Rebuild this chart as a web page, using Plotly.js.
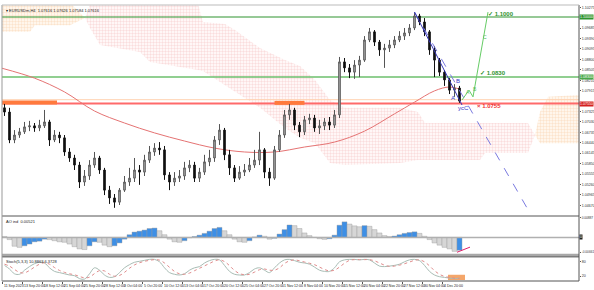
<!DOCTYPE html>
<html><head><meta charset="utf-8">
<script src="https://cdn.plot.ly/plotly-3.0.1.min.js"></script>
<style>html,body{margin:0;padding:0;background:#fff;}#c{width:594px;height:290px;}</style>
</head><body><div id="c"></div>
<script>
// ---- data (H4 candles aggregated, one candle per 4 bars) ----
const openP = [1.0743,1.0731,1.0652,1.0666,1.0675,1.0689,1.0692,1.0686,1.0692,1.0703,
1.0652,1.0666,1.0658,1.0618,1.0601,1.0581,1.0533,1.0550,1.0581,1.0601,
1.0567,1.0510,1.0488,1.0476,1.0510,1.0533,1.0544,1.0567,1.0561,1.0595,
1.0618,1.0629,1.0624,1.0553,1.0533,1.0544,1.0550,1.0573,1.0581,1.0544,
1.0561,1.0590,1.0601,1.0652,1.0680,1.0610,1.0573,1.0544,1.0561,1.0567,
1.0581,1.0595,1.0624,1.0561,1.0544,1.0624,1.0666,1.0723,1.0737,1.0694,
1.0675,1.0709,1.0714,1.0686,1.0692,1.0703,1.0694,1.0723,1.0873,1.0856,
1.0844,1.0864,1.0878,1.0935,1.0958,1.0929,1.0907,1.0912,1.0921,1.0935,
1.0946,1.0955,1.0969,1.1003,1.0986,1.0958,1.0907,1.0878,1.0844,1.0822,
1.0793,1.0799];
const highP = [1.0754,1.0743,1.0680,1.0686,1.0703,1.0706,1.0700,1.0709,1.0737,1.0709,
1.0680,1.0675,1.0666,1.0629,1.0610,1.0590,1.0567,1.0595,1.0618,1.0607,
1.0573,1.0522,1.0499,1.0516,1.0550,1.0573,1.0601,1.0581,1.0610,1.0635,
1.0643,1.0646,1.0635,1.0561,1.0561,1.0567,1.0590,1.0595,1.0590,1.0573,
1.0610,1.0624,1.0663,1.0697,1.0686,1.0624,1.0581,1.0578,1.0584,1.0601,
1.0624,1.0675,1.0629,1.0573,1.0635,1.0680,1.0737,1.0754,1.0743,1.0703,
1.0720,1.0726,1.0723,1.0709,1.0714,1.0717,1.0737,1.0887,1.0884,1.0867,
1.0878,1.0890,1.0946,1.0969,1.0963,1.0935,1.0924,1.0935,1.0946,1.0960,
1.0969,1.0980,1.1014,1.1009,1.0997,1.0963,1.0918,1.0884,1.0850,1.0827,
1.0810,1.0805];
const lowP = [1.0720,1.0643,1.0643,1.0658,1.0669,1.0677,1.0675,1.0677,1.0686,1.0635,
1.0646,1.0643,1.0607,1.0590,1.0567,1.0516,1.0522,1.0539,1.0573,1.0556,
1.0496,1.0471,1.0460,1.0468,1.0505,1.0522,1.0533,1.0525,1.0550,1.0587,
1.0607,1.0610,1.0539,1.0510,1.0522,1.0533,1.0539,1.0561,1.0533,1.0533,
1.0553,1.0578,1.0590,1.0638,1.0595,1.0553,1.0533,1.0539,1.0550,1.0561,
1.0573,1.0581,1.0544,1.0522,1.0539,1.0618,1.0658,1.0709,1.0680,1.0660,
1.0666,1.0697,1.0675,1.0669,1.0680,1.0680,1.0686,1.0714,1.0844,1.0827,
1.0825,1.0830,1.0873,1.0929,1.0918,1.0890,1.0856,1.0901,1.0912,1.0929,
1.0935,1.0946,1.0963,1.0977,1.0946,1.0893,1.0830,1.0833,1.0805,1.0782,
1.0774,1.0757];
const closeP = [1.0731,1.0652,1.0666,1.0675,1.0689,1.0692,1.0686,1.0694,1.0703,1.0652,
1.0666,1.0658,1.0618,1.0601,1.0581,1.0533,1.0550,1.0581,1.0601,1.0567,
1.0510,1.0488,1.0476,1.0510,1.0533,1.0544,1.0567,1.0561,1.0595,1.0618,
1.0629,1.0624,1.0553,1.0533,1.0544,1.0550,1.0573,1.0581,1.0544,1.0561,
1.0590,1.0601,1.0652,1.0680,1.0610,1.0573,1.0544,1.0561,1.0567,1.0581,
1.0595,1.0624,1.0561,1.0544,1.0624,1.0666,1.0723,1.0737,1.0694,1.0675,
1.0709,1.0714,1.0686,1.0692,1.0703,1.0694,1.0723,1.0873,1.0856,1.0844,
1.0864,1.0878,1.0935,1.0958,1.0929,1.0907,1.0912,1.0921,1.0935,1.0946,
1.0955,1.0969,1.1003,1.0986,1.0958,1.0907,1.0878,1.0844,1.0822,1.0793,
1.0799,1.0762];

const maX = [-0.5,6,12,18,24,30,36,42,48,54,60,66,72,78,82,86,89,91];
const maY = [1.0855,1.0827,1.0788,1.0734,1.0700,1.0672,1.0649,1.0629,1.0618,1.0618,1.0632,1.0646,1.0677,1.0726,1.0759,1.0791,1.0802,1.0796];

// Ichimoku cloud boundaries
const pinkX = [16.1,17.1,19.1,27.1,29.1,38.7,39.7,44.1,46.1,51.1,56.1,59.1,62.1,65.1,68.1,79.1,82.7,84.1,95.1,96.1,104.7,106.1];
const pinkTop = [1.0997,1.1037,1.1037,1.1037,1.1037,1.1037,1.0986,1.0980,1.0963,1.0912,1.0878,1.0861,1.0822,1.0765,1.0743,1.0743,1.0731,1.0700,1.0700,1.0700,1.0700,1.0666];
const pinkBot = [1.0997,1.0969,1.0921,1.0901,1.0873,1.0850,1.0847,1.0808,1.0788,1.0743,1.0686,1.0658,1.0643,1.0587,1.0581,1.0587,1.0595,1.0595,1.0595,1.0615,1.0615,1.0666];
const orange1X = [-0.5,5.1,6.1,13.1,16.1];
const orange1Top = [1.1040,1.1040,1.1040,1.1040,1.0997];
const orange1Bot = [1.0958,1.0958,1.0977,1.0977,1.0997];
const orange2X = [106.1,107.1,108.7,114.9];
const orange2Top = [1.0666,1.0731,1.0774,1.0779];
const orange2Bot = [1.0666,1.0643,1.0643,1.0643];

const levelPrices = [1.1000, 1.0830, 1.0755];
const levelTexts = ["✓ 1.1000", "✓ 1.0830", "× 1.0755"];
const zoneStart = [-0.5, 54];
const zoneEnd = [10.5, 60];
const zonePrice = [1.0758, 1.0757];

const blueSolidX = [82, 91.5], blueSolidY = [1.1014, 1.0751];
const blueDashX = [82, 105.3], blueDashY = [1.1014, 1.0440];
const greenWaveX = [91.5, 92.9, 93.7, 96.7];
const greenWaveY = [1.0765, 1.0793, 1.0774, 1.1014];

const aoVals = [0.0004,-0.0010,-0.0040,-0.0045,-0.0038,-0.0030,-0.0020,-0.0017,-0.0008,-0.0010,
-0.0015,-0.0020,-0.0022,-0.0030,-0.0042,-0.0052,-0.0055,-0.0038,-0.0020,-0.0022,
-0.0035,-0.0042,-0.0038,-0.0025,-0.0008,0.0012,0.0024,0.0028,0.0033,0.0040,
0.0042,0.0030,0.0012,-0.0008,-0.0020,-0.0022,-0.0015,-0.0002,0.0004,0.0010,
0.0018,0.0028,0.0040,0.0045,0.0030,0.0012,-0.0008,-0.0020,-0.0022,-0.0015,
0.0002,0.0010,0.0005,-0.0008,-0.0004,0.0015,0.0035,0.0056,0.0053,0.0040,
0.0020,0.0008,0.0000,-0.0006,-0.0009,-0.0006,0.0010,0.0055,0.0070,0.0060,
0.0052,0.0048,0.0053,0.0050,0.0035,0.0020,0.0008,0.0004,0.0006,0.0012,
0.0018,0.0022,0.0025,0.0018,0.0005,-0.0010,-0.0025,-0.0035,-0.0045,-0.0052,
-0.0063,-0.0058];
const aoDivX = [90.5, 93.1], aoDivY = [-0.0067, -0.0044];

const stochMain = [65,50,30,28,45,60,72,78,75,55,40,35,30,25,22,10,8,30,55,45,
25,15,18,35,55,68,78,82,86,90,90,80,55,35,28,25,30,45,55,60,
75,85,90,88,65,40,28,25,25,35,50,55,45,35,55,75,88,90,85,78,
75,70,58,45,40,40,55,80,88,90,90,88,90,88,75,62,60,62,65,70,
80,88,90,85,65,40,25,18,15,12,10,12];
const stochSig = [70,62,48,36,34,44,58,70,76,70,56,44,36,30,26,19,13,16,31,43,
42,28,20,23,36,53,67,76,82,86,89,87,75,57,40,30,28,33,43,53,
63,73,83,88,81,64,44,31,26,28,37,47,50,45,45,55,73,84,88,84,
79,74,68,58,48,42,45,58,74,86,89,89,89,89,84,75,66,61,62,66,
72,79,86,88,80,63,43,28,19,15,12,11];
const stochBoxX = [88.7, 92.1], stochBoxY = [4, 26];

const dateLabels = ["11 Sep 2023","13 Sep 20:00","18 Sep 12:00","21 Sep 04:00","25 Sep 20:00","28 Sep 12:00","3 Oct 04:00","5 Oct 20:00","10 Oct 12:00","13 Oct 04:00","17 Oct 20:00","20 Oct 12:00","25 Oct 04:00","27 Oct 20:00","1 Nov 12:00","8 Nov 04:00","10 Nov 20:00","15 Nov 12:00","20 Nov 04:00","22 Nov 20:00","27 Nov 12:00","30 Nov 04:00","4 Dec 20:00"];
const priceTicks = [1.10275,1.09685,1.09390,1.09095,1.08800,1.08505,1.08210,1.07915,1.07325,1.07030,1.06735,1.06440,1.06145,1.05850,1.05555,1.05260,1.04965,1.04670];
const aoTicks = [0.00887, -0.00661];
const stochTicks = [20, 80];

// ---- build ----
const idx = closeP.map((_, i) => i);
const F = "Liberation Sans, Arial, sans-serif";
const PR = [1.04368, 1.10340];
const traces = [];
function poly(X, T, B, color, pcolor){
  return {type:'scatter', mode:'lines', x: X.concat(X.slice().reverse()), y: T.concat(B.slice().reverse()),
    fill:'toself', fillcolor:color, line:{width:0}, hoverinfo:'skip',
    fillpattern:{shape:'+', size:3, solidity:0.2, fgcolor:pcolor, bgcolor:color}, xaxis:'x', yaxis:'y', showlegend:false};
}
traces.push(poly(orange1X, orange1Top, orange1Bot, 'rgba(255,246,236,1)', '#f9d2b0'));
traces.push(poly(pinkX, pinkTop, pinkBot, 'rgba(255,247,247,1)', '#f5c6c6'));
traces.push(poly(orange2X, orange2Top, orange2Bot, 'rgba(255,246,236,1)', '#f9d2b0'));

// levels
const lvlColors = ['#2f932f', '#6cbf6c', '#ff6a6a'];
const lvlWidths = [1, 1.5, 2];
levelPrices.forEach((p, k) => traces.push({type:'scatter', mode:'lines', x:[-0.5, 114.9], y:[p, p],
  line:{color:lvlColors[k], width:lvlWidths[k]}, hoverinfo:'skip', showlegend:false}));
traces.push({type:'scatter', mode:'lines', x:[-0.5,114.9], y:[1.0766,1.0766], line:{color:'#ffd2b0', width:1}, showlegend:false});
zoneStart.forEach((s, k) => traces.push({type:'scatter', mode:'lines', x:[s, zoneEnd[k]], y:[zonePrice[k], zonePrice[k]],
  line:{color:'#ff7a3d', width:4}, showlegend:false}));

// MA
traces.push({type:'scatter', mode:'lines', x:maX, y:maY, line:{color:'#e57373', width:1, shape:'spline'}, showlegend:false});

// candles (overlay axis so they sit above the cloud)
traces.push({type:'candlestick', x:idx, open:openP, high:highP, low:lowP, close:closeP,
  increasing:{line:{color:'#555555', width:1}, fillcolor:'#b8b8b8'},
  decreasing:{line:{color:'#111111', width:1}, fillcolor:'#111111'},
  whiskerwidth:0, showlegend:false, xaxis:'x', yaxis:'y4'});

// trend lines (top overlay)
traces.push({type:'scatter', mode:'lines', x:blueDashX, y:blueDashY, line:{color:'#7a7ae0', width:1, dash:'dash'}, xaxis:'x', yaxis:'y5', showlegend:false});
traces.push({type:'scatter', mode:'lines', x:blueSolidX, y:blueSolidY, line:{color:'#3535b5', width:1}, xaxis:'x', yaxis:'y5', showlegend:false});
traces.push({type:'scatter', mode:'lines', x:greenWaveX, y:greenWaveY, line:{color:'#66cc66', width:1}, xaxis:'x', yaxis:'y5', showlegend:false});

// AO
const aoColors = aoVals.map((v, i) => (i > 0 && v > aoVals[i-1]) ? '#3d8fe6' : '#d6d6d6');
traces.push({type:'bar', x:idx, y:aoVals, marker:{color:aoColors, line:{color:'#9a9a9a', width:0.4}},
  xaxis:'x', yaxis:'y2', showlegend:false});
traces.push({type:'scatter', mode:'lines', x:[-0.5,114.9], y:[0,0], line:{color:'#b0b0b0', width:1.5}, xaxis:'x', yaxis:'y2', showlegend:false});
traces.push({type:'scatter', mode:'lines', x:aoDivX, y:aoDivY, line:{color:'#e0206a', width:1}, xaxis:'x', yaxis:'y2', showlegend:false});

// Stoch
traces.push({type:'scatter', mode:'lines', x:[stochBoxX[0],stochBoxX[1],stochBoxX[1],stochBoxX[0]], y:[stochBoxY[0],stochBoxY[0],stochBoxY[1],stochBoxY[1]],
  fill:'toself', fillcolor:'#f4a66a', line:{width:0}, xaxis:'x', yaxis:'y3', showlegend:false});
traces.push({type:'scatter', mode:'lines', x:idx, y:stochMain, line:{color:'#a9bdb5', width:1, shape:'spline'}, xaxis:'x', yaxis:'y3', showlegend:false});
traces.push({type:'scatter', mode:'lines', x:idx, y:stochSig, line:{color:'#e08c8c', width:1, dash:'dot', shape:'spline'}, xaxis:'x', yaxis:'y3', showlegend:false});

// annotations
const ann = [];
const lvlTextColors = ['#2f932f', '#2f932f', '#ee3333'];
const lvlTextY = [1.10085, 1.0841, 1.0748];
const lvlTextX = [96.3, 94.7, 94.1];
levelTexts.forEach((t, k) => ann.push({x:lvlTextX[k], y:lvlTextY[k], xref:'x', yref:'y', text:'<b>'+t+'</b>', showarrow:false,
  xanchor:'left', yanchor:'middle', font:{family:F, size:6, color:lvlTextColors[k]}}));
[['B',90.7,1.0819],['A',89.7,1.0771],['ycC',91.7,1.0743]].forEach(a => ann.push({x:a[1], y:a[2], xref:'x', yref:'y', text:a[0], showarrow:false,
  font:{family:F, size:6, color:'#3838c8'}}));
[['C',96.1,1.0943],['A',92.7,1.0788],['B',94.1,1.0796]].forEach(a => ann.push({x:a[1], y:a[2], xref:'x', yref:'y', text:a[0], showarrow:false,
  font:{family:F, size:5, color:'#59c059'}}));
// right-axis highlighted labels
[[1.1000,'1.10000','#2f932f'],[1.0830,'1.08300','#4aa84a'],[1.0755,'1.07550','#d42020']].forEach(a => ann.push({x:1, y:a[0], xref:'paper', yref:'y',
  text:a[1], showarrow:false, xanchor:'left', yanchor:'middle', xshift:0, bgcolor:a[2], borderpad:0, font:{family:F, size:3.6, color:'#fff'}}));
ann.push({x:1, y:0, xref:'paper', yref:'y2', text:'0', showarrow:false, xanchor:'left', yanchor:'middle', xshift:0, bgcolor:'#222', borderpad:0, font:{family:F, size:3.6, color:'#fff'}});
// headers
ann.push({x:0, y:1, xref:'paper', yref:'paper', text:'▾ EURUSDm,H4  1.07616 1.07626 1.07584 1.07616', showarrow:false, xanchor:'left', yanchor:'top', xshift:2, yshift:-1, font:{family:F, size:4, color:'#222'}});
ann.push({x:0, y:0.2319, xref:'paper', yref:'paper', text:'AO ind  0.00521', showarrow:false, xanchor:'left', yanchor:'top', xshift:2, font:{family:F, size:4, color:'#222'}});
ann.push({x:0, y:0.087, xref:'paper', yref:'paper', text:'Stoch(5,3,3) 10.8863 6.3728', showarrow:false, xanchor:'left', yanchor:'top', xshift:2, font:{family:F, size:4, color:'#222'}});
// dates
dateLabels.forEach((t, k) => ann.push({x:-0.5 + 4*k, y:0, xref:'x', yref:'paper', text:t, showarrow:false, xanchor:'left', yanchor:'top',
  yshift:-1, font:{family:F, size:3.5, color:'#222'}}));

const shapes = [
  {type:'line', xref:'paper', yref:'paper', x0:0, x1:1, y0:0.2355, y1:0.2355, line:{color:'#555', width:1}},
  {type:'line', xref:'paper', yref:'paper', x0:0, x1:1, y0:0.094, y1:0.094, line:{color:'#a8a8a8', width:2.5}},
  {type:'line', xref:'paper', yref:'paper', x0:0, x1:1, y0:0.0875, y1:0.0875, line:{color:'#444', width:1}},
  {type:'line', xref:'paper', yref:'paper', x0:0, x1:1, y0:0, y1:0, line:{color:'#555', width:1}},
  {type:'line', xref:'paper', yref:'paper', x0:1, x1:1, y0:0, y1:1, line:{color:'#555', width:1}},
  {type:'line', xref:'paper', yref:'paper', x0:0, x1:0, y0:0, y1:1, line:{color:'#999', width:1}},
  {type:'line', xref:'paper', yref:'paper', x0:0, x1:1, y0:1, y1:1, line:{color:'#bbb', width:1}}
];

const layout = {
  width:594, height:290, margin:{l:2, r:15, t:5, b:9}, paper_bgcolor:'#fff', plot_bgcolor:'#fff',
  showlegend:false, bargap:0, boxgap:0.55, font:{family:F, size:3.6, color:'#333'},
  xaxis:{range:[-0.5,114.9], rangeslider:{visible:false}, showgrid:false, zeroline:false, anchor:'y3',
    tickvals: dateLabels.map((_, k) => -0.5 + 4*k), ticks:'outside', ticklen:2, tickcolor:'#555', showticklabels:false},
  yaxis:{domain:[0.2355,1], range:PR, side:'right', showgrid:false, zeroline:false,
    tickvals:priceTicks, ticktext:priceTicks.map(v => v.toFixed(5)), ticks:'outside', ticklen:1, tickcolor:'#555', tickfont:{size:3.6, color:'#333'}},
  yaxis4:{overlaying:'y', range:PR, visible:false, anchor:'x'},
  yaxis5:{overlaying:'y', range:PR, visible:false, anchor:'x'},
  yaxis2:{domain:[0.0978,0.2319], range:[-0.0075,0.0092], side:'right', anchor:'x', showgrid:false, zeroline:false,
    tickvals:aoTicks, ticktext:aoTicks.map(v => v.toFixed(5)), ticks:'outside', ticklen:1, tickcolor:'#555', tickfont:{size:3.2}},
  yaxis3:{domain:[0,0.0870], range:[0,100], side:'right', anchor:'x', showgrid:false, zeroline:false,
    tickvals:stochTicks, ticks:'outside', ticklen:1, tickcolor:'#555', tickfont:{size:3.6}},
  annotations:ann, shapes:shapes
};
Plotly.newPlot('c', traces, layout, {displayModeBar:false, staticPlot:true});
</script></body></html>
